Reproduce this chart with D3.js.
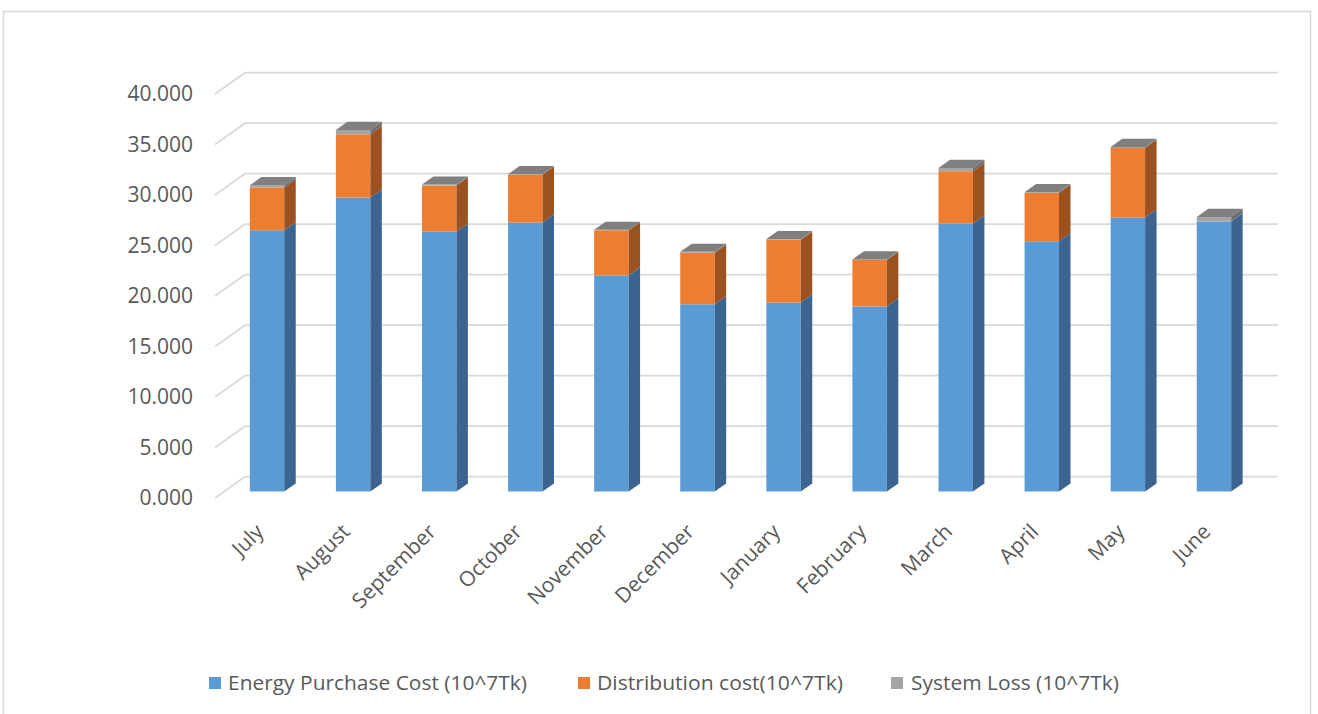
<!DOCTYPE html>
<html>
<head>
<meta charset="utf-8">
<script src="https://cdn.jsdelivr.net/npm/d3@7"></script>
<style>
  html, body { margin: 0; padding: 0; background: #fff; }
  svg { display: block; }
</style>
</head>
<body>
<svg id="chart" width="1318" height="714"></svg>
<script>
// Monthly cost breakdown (10^7 Tk)
const months = ["July", "August", "September", "October", "November", "December",
                "January", "February", "March", "April", "May", "June"];
const energyPurchaseCost = [25.88, 29.12, 25.72, 26.65, 21.40, 18.54, 18.73, 18.34, 26.55, 24.80, 27.14, 26.75];
const distributionCost   = [4.24, 6.26, 4.60, 4.73, 4.47, 5.10, 6.20, 4.60, 5.17, 4.79, 6.88, 0.00];
const systemLoss         = [0.21, 0.42, 0.08, 0.05, 0.05, 0.10, 0.07, 0.05, 0.33, 0.05, 0.10, 0.45];
const yTicks = [0, 5, 10, 15, 20, 25, 30, 35, 40];
const seriesNames = ["Energy Purchase Cost (10^7Tk)", "Distribution cost(10^7Tk)", "System Loss (10^7Tk)"];

const frontColors = ["#5b9bd5", "#ed7d31", "#a5a5a5"];
const sideColors  = ["#3b6590", "#9c5121", "#6e6e6e"];
const topColor    = "#7f7f7f";

const svg = d3.select("#chart");
const W = 1318, H = 714;

// outer frame
svg.append("rect")
  .attr("x", 3.5).attr("y", 11.5)
  .attr("width", 1307).attr("height", H + 10)
  .attr("fill", "#fff").attr("stroke", "#d9d9d9").attr("stroke-width", 1.5);

// Oblique 3D projection: front plane scales plus a depth vector
const depth = { dx: 30, dy: -21.3 };
const barDepthStart = 0.3, barDepthEnd = 0.683;

const x = d3.scaleBand().domain(months).range([215, 1248])
  .paddingInner(0.6).paddingOuter(0.3);
const y = d3.scaleLinear().domain([0, 40]).range([498, 94]);

const P = (px, py, f) => [px + depth.dx * f, py + depth.dy * f];

// gridlines: left wall diagonal + back wall horizontal
const grid = svg.append("g").attr("fill", "none")
  .attr("stroke", "#d9d9d9").attr("stroke-width", 1.7);
yTicks.forEach(v => {
  const a = P(215, y(v), 0), b = P(215, y(v), 1), c = P(1248, y(v), 1);
  grid.append("path").attr("d", `M${a}L${b}L${c}`);
});

// y axis labels
const yAxis = d3.axisLeft(y).tickValues(yTicks).tickFormat(d3.format(".3f"))
  .tickSize(0).tickPadding(0);
const yg = svg.append("g").attr("transform", "translate(193,0)").call(yAxis);
yg.select(".domain").remove();
yg.selectAll("text")
  .attr("fill", "#595959")
  .style("font-family", "'Open Sans', sans-serif")
  .style("font-size", "21px");

// stacked series
const rows = months.map((m, i) => ({
  month: m, e: energyPurchaseCost[i], d: distributionCost[i], s: systemLoss[i]
}));
const stack = d3.stack().keys(["e", "d", "s"]);
const layers = stack(rows);

const bars = svg.append("g");
const poly = pts => "M" + pts.map(p => p.join(",")).join("L") + "Z";

months.forEach((m, i) => {
  const x0 = x(m), x1 = x(m) + x.bandwidth();
  const g = bars.append("g");
  layers.forEach((layer, k) => {
    const [v0, v1] = layer[i];
    if (v1 - v0 <= 0) return;
    const yb = y(v0), yt = y(v1);
    // front face
    g.append("path").attr("fill", frontColors[k]).attr("d", poly([
      P(x0, yb, barDepthStart), P(x1, yb, barDepthStart),
      P(x1, yt, barDepthStart), P(x0, yt, barDepthStart)
    ]));
    // right side face
    g.append("path").attr("fill", sideColors[k]).attr("d", poly([
      P(x1, yb, barDepthStart), P(x1, yb, barDepthEnd),
      P(x1, yt, barDepthEnd), P(x1, yt, barDepthStart)
    ]));
  });
  // top face
  const total = layers[layers.length - 1][i][1];
  const yt = y(total);
  g.append("path").attr("fill", topColor).attr("d", poly([
    P(x0, yt, barDepthStart), P(x1, yt, barDepthStart),
    P(x1, yt, barDepthEnd), P(x0, yt, barDepthEnd)
  ]));
});

// category labels, rotated
const xl = svg.append("g");
months.forEach(m => {
  const cx = x(m) + x.bandwidth() / 2 + depth.dx * barDepthStart;
  xl.append("text")
    .attr("transform", `translate(${cx - 2},533) rotate(-45)`)
    .attr("text-anchor", "end")
    .attr("fill", "#595959")
    .style("font-family", "'Open Sans', sans-serif")
    .style("font-size", "21px")
    .text(m);
});

// legend
const legendItems = [
  { name: seriesNames[0], color: frontColors[0], sx: 209, tx: 228, w: 299 },
  { name: seriesNames[1], color: frontColors[1], sx: 578, tx: 597, w: 246 },
  { name: seriesNames[2], color: frontColors[2], sx: 891, tx: 911, w: 208 }
];
const lg = svg.append("g");
legendItems.forEach(it => {
  lg.append("rect").attr("x", it.sx).attr("y", 677).attr("width", 12).attr("height", 12)
    .attr("fill", it.color);
  lg.append("text")
    .attr("x", it.tx).attr("y", 690)
    .attr("fill", "#595959")
    .attr("textLength", it.w).attr("lengthAdjust", "spacingAndGlyphs")
    .style("font-family", "'Open Sans', sans-serif")
    .style("font-size", "20px")
    .text(it.name);
});
</script>
</body>
</html>
